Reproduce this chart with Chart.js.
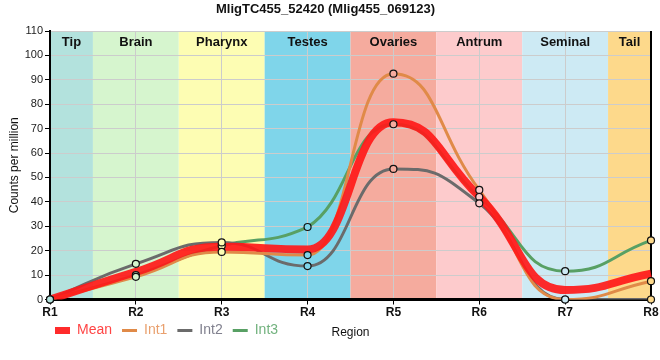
<!DOCTYPE html>
<html>
<head>
<meta charset="utf-8">
<script src="https://cdn.jsdelivr.net/npm/chart.js@4/dist/chart.umd.min.js"></script>
<style>
  html, body { margin: 0; padding: 0; background: #ffffff; }
  #wrap { width: 660px; height: 360px; }
</style>
</head>
<body>
<div id="wrap"><canvas id="c" width="660" height="360"></canvas></div>
<script>
// ---- data ----
const chartTitle = 'MligTC455_52420 (Mlig455_069123)';
const categories = ['R1', 'R2', 'R3', 'R4', 'R5', 'R6', 'R7', 'R8'];
const regionNames = ['Tip', 'Brain', 'Pharynx', 'Testes', 'Ovaries', 'Antrum', 'Seminal', 'Tail'];
const meanValues = [0, 11.3, 21.6, 20.5, 72.6, 42.1, 3.9, 10.6];
const int1Values = [0, 9.3, 19.5, 18.2, 92.5, 44.9, 0, 7.5];
const int2Values = [0, 14.6, 23.4, 13.7, 53.5, 39.4, 0, 0];
const int3Values = [0, 10.0, 22.0, 29.7, 71.8, 42.0, 11.6, 24.2];
const yTicks = [0, 10, 20, 30, 40, 50, 60, 70, 80, 90, 100, 110];

// ---- styles ----
const bandColors = ['#b3e2dd', '#d6f5ce', '#fdfdb3', '#7fd5ea', '#f5ab9e', '#fdcbcc', '#cdeaf4', '#fdd98b'];
const FONT = "'Liberation Sans', Arial, sans-serif";
const ARM = 0.5; // length of curve handles, as a share of the category spacing

Chart.defaults.font.family = FONT;
Chart.defaults.color = '#222';

const seriesDefs = [
  { label: 'Mean', data: meanValues, color: 'rgba(255,25,25,0.92)', text: '#ff4545', width: 8, legendWidth: 7, order: 1 },
  { label: 'Int1', data: int1Values, color: '#e08a48', text: '#e9a06e', width: 3, legendWidth: 3, order: 2 },
  { label: 'Int2', data: int2Values, color: '#6b6b6b', text: '#80808e', width: 3, legendWidth: 3, order: 2 },
  { label: 'Int3', data: int3Values, color: '#58a064', text: '#72b27e', width: 3, legendWidth: 3, order: 2 }
];

const datasets = seriesDefs.map(s => ({
  label: s.label,
  data: s.data,
  borderColor: s.color,
  backgroundColor: s.color,
  borderWidth: s.width,
  pointRadius: 0,
  cubicInterpolationMode: 'monotone',
  fill: false,
  order: s.order,
  legendText: s.text,
  legendWidth: s.legendWidth
}));
// markers for the individual series, drawn above all lines
seriesDefs.slice(1).forEach(s => {
  datasets.push({
    label: s.label + ' points',
    data: s.data,
    showLine: false,
    pointRadius: 3.5,
    pointBorderWidth: 1.2,
    pointBorderColor: '#111',
    pointBackgroundColor: bandColors,
    order: 0,
    clip: false,
    isMarker: true
  });
});

function clampBetween(v, a, b) {
  const lo = Math.min(a, b), hi = Math.max(a, b);
  return Math.min(hi, Math.max(lo, v));
}

// lengthen the monotone curve handles so extremes form broader plateaus
const smoothPlugin = {
  id: 'smoothHandles',
  beforeDatasetDraw(chart, args) {
    const ds = chart.data.datasets[args.index];
    if (ds.isMarker) return;
    const line = args.meta.dataset;
    if (!line) return;
    line.updateControlPoints(chart.chartArea, 'x');
    const pts = line.points;
    const n = pts.length;
    const slopes = pts.map((p, i) => {
      if (i === 0) return (pts[1].y - p.y) / (pts[1].x - p.x) * ((p.cp2y - p.y) / ((p.cp2x - p.x) || 1)) / (((pts[1].y - p.y) / (pts[1].x - p.x)) || 1);
      if (i === n - 1) return (p.y - p.cp1y) / ((p.x - p.cp1x) || 1);
      return (p.cp2y - p.cp1y) / ((p.cp2x - p.cp1x) || 1);
    });
    pts.forEach((p, i) => {
      const m = slopes[i];
      if (i > 0) {
        const q = pts[i - 1];
        const h = p.x - q.x;
        p.cp1x = p.x - ARM * h;
        p.cp1y = clampBetween(p.y - m * ARM * h, q.y, p.y);
      }
      if (i < n - 1) {
        const q = pts[i + 1];
        const h = q.x - p.x;
        p.cp2x = p.x + ARM * h;
        p.cp2y = clampBetween(p.y + m * ARM * h, p.y, q.y);
      }
    });
  }
};

const bandPlugin = {
  id: 'bands',
  beforeDraw(chart) {
    const { ctx, chartArea: a, scales: { x } } = chart;
    ctx.save();
    bandColors.forEach((c, i) => {
      const l = Math.max(a.left, x.getPixelForValue(i - 0.5));
      const r = Math.min(a.right, x.getPixelForValue(i + 0.5));
      ctx.fillStyle = c;
      ctx.fillRect(l, a.top, r - l, a.bottom - a.top);
    });
    ctx.restore();
  },
  beforeDatasetsDraw(chart) {
    const { ctx, chartArea: a, scales: { x } } = chart;
    ctx.save();
    ctx.font = 'bold 13px ' + FONT;
    ctx.fillStyle = '#111';
    ctx.textAlign = 'center';
    ctx.textBaseline = 'middle';
    regionNames.forEach((n, i) => {
      const l = Math.max(a.left, x.getPixelForValue(i - 0.5));
      const r = Math.min(a.right, x.getPixelForValue(i + 0.5));
      ctx.fillText(n, (l + r) / 2, a.top + 11);
    });
    ctx.strokeStyle = '#000';
    ctx.lineWidth = 2;
    ctx.beginPath();
    ctx.moveTo(a.right, a.top);
    ctx.lineTo(a.right, a.bottom + 1);
    ctx.stroke();
    ctx.restore();
  },
  afterLayout(chart) {
    const lg = chart.legend;
    if (lg) {
      const h = lg.height;
      lg.left = 45;
      lg.top = chart.chartArea.bottom + 14;
      lg.bottom = lg.top + h;
    }
  }
};

new Chart(document.getElementById('c'), {
  type: 'line',
  data: { labels: categories, datasets },
  plugins: [bandPlugin, smoothPlugin],
  options: {
    responsive: false,
    animation: false,
    events: [],
    layout: { padding: { left: 0, right: 9, top: 0, bottom: 4.5 } },
    plugins: {
      tooltip: { enabled: false },
      title: {
        display: true,
        text: chartTitle,
        color: '#111',
        font: { size: 13, weight: 'bold', family: FONT },
        padding: { top: 2, bottom: 13.4 }
      },
      legend: {
        display: true,
        position: 'bottom',
        align: 'start',
        labels: {
          font: { size: 14, family: FONT },
          usePointStyle: true,
          pointStyleWidth: 15,
          padding: 10,
          filter: (item, data) => !data.datasets[item.datasetIndex].isMarker,
          generateLabels(chart) {
            return chart.data.datasets.map((d, i) => ({
              text: d.label,
              datasetIndex: i,
              fillStyle: d.borderColor,
              strokeStyle: d.borderColor,
              lineWidth: d.isMarker ? 0 : d.legendWidth,
              pointStyle: 'line',
              fontColor: d.legendText || '#000',
              hidden: false
            }));
          }
        }
      }
    },
    scales: {
      x: {
        type: 'category',
        offset: false,
        afterFit: s => { s.height = 22; },
        grid: { color: '#cccccc', lineWidth: 1, tickColor: '#000', tickLength: 5, drawTicks: true },
        border: { display: true, color: '#000', width: 3 },
        ticks: { color: '#111', font: { size: 12, weight: 'bold', family: FONT }, padding: 1, maxRotation: 0, autoSkip: false },
        title: { display: true, text: 'Region', color: '#111', font: { size: 12, family: FONT }, padding: { top: 0, bottom: -18.2 } }
      },
      y: {
        min: 0,
        max: 110,
        afterFit: s => { s.width = 50; },
        afterBuildTicks: s => { s.ticks = yTicks.map(v => ({ value: v })); },
        grid: { color: '#cccccc', lineWidth: 1, tickColor: '#000', tickLength: 5 },
        border: { display: true, color: '#000', width: 2 },
        ticks: { color: '#222', font: { size: 11, family: FONT }, padding: 2 },
        title: { display: true, text: 'Counts per million', color: '#111', font: { size: 12, family: FONT }, padding: { top: 7, bottom: 0 } }
      }
    }
  }
});
</script>
</body>
</html>
